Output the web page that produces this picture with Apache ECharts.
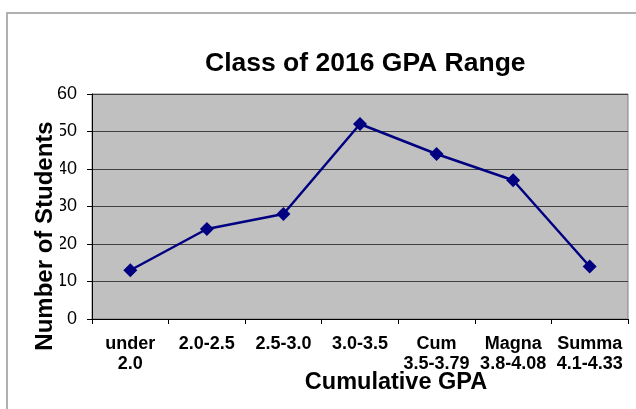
<!DOCTYPE html>
<html>
<head>
<meta charset="utf-8">
<script src="https://cdn.jsdelivr.net/npm/echarts@6/dist/echarts.min.js"></script>
<style>
  html, body { margin: 0; padding: 0; background: #fff; }
  #gpaChart { width: 636px; height: 409px; }
</style>
</head>
<body>
<div id="gpaChart"></div>
<script>
const categories = ['under\n2.0', '2.0-2.5', '2.5-3.0', '3.0-3.5', 'Cum\n3.5-3.79', 'Magna\n3.8-4.08', 'Summa\n4.1-4.33'];
const students = [13, 24, 28, 52, 44, 37, 14];
const yTicks = { min: 0, max: 60, interval: 10 };

const font = 'Arial, "Liberation Sans", sans-serif';

document.addEventListener("DOMContentLoaded", () => {
    echarts.init(document.querySelector("#gpaChart")).setOption({
        animation: false,
        title: {
            text: 'Class of 2016 GPA Range',
            left: 200,
            top: 45,
            textStyle: {
                fontFamily: font,
                fontSize: 26.5,
                fontWeight: 'bold',
                color: '#000'
            }
        },
        graphic: [{
            type: 'rect',
            shape: { x: 7, y: 13, width: 700, height: 500 },
            style: { fill: 'none', stroke: '#b0b0b0', lineWidth: 2 },
            silent: true
        }, {
            // y axis title sits over the tick labels, like the original
            type: 'text',
            x: 45,
            y: 236,
            rotation: Math.PI / 2,
            z: 100,
            style: {
                text: 'Number of Students',
                fontFamily: font,
                fontSize: 24,
                fontWeight: 'bold',
                fill: '#000',
                align: 'center',
                verticalAlign: 'middle',
                backgroundColor: '#fff',
                padding: [3, 0]
            }
        }, {
            type: 'text',
            x: 396,
            y: 383,
            z: 100,
            style: {
                text: 'Cumulative GPA',
                fontFamily: font,
                fontSize: 23.5,
                fontWeight: 'bold',
                fill: '#000',
                align: 'center',
                verticalAlign: 'middle'
            }
        }],
        grid: {
            left: 92,
            right: 8,
            top: 94,
            bottom: 90,
            show: true,
            backgroundColor: '#c0c0c0',
            borderColor: '#808080',
            borderWidth: 1
        },
        xAxis: {
            type: 'category',
            data: categories,
            boundaryGap: true,
            axisLine: { lineStyle: { color: '#000', width: 1 } },
            axisTick: { show: true, length: 5, lineStyle: { color: '#000' } },
            axisLabel: {
                interval: 0,
                margin: 15,
                fontFamily: font,
                fontSize: 18,
                fontWeight: 'bold',
                color: '#000',
                lineHeight: 20
            }
        },
        yAxis: {
            type: 'value',
            min: yTicks.min,
            max: yTicks.max,
            interval: yTicks.interval,
            axisLine: { show: true, lineStyle: { color: '#000', width: 1 } },
            axisTick: { show: true, length: 5, lineStyle: { color: '#000' } },
            axisLabel: {
                margin: 15,
                fontFamily: font,
                fontSize: 18,
                color: '#000'
            },
            splitLine: { lineStyle: { color: '#404040', width: 1 } }
        },
        series: [{
            type: 'line',
            data: students,
            symbol: 'diamond',
            symbolSize: 14,
            lineStyle: { color: '#000080', width: 2.5 },
            itemStyle: { color: '#000080' }
        }]
    });
});
</script>
</body>
</html>
